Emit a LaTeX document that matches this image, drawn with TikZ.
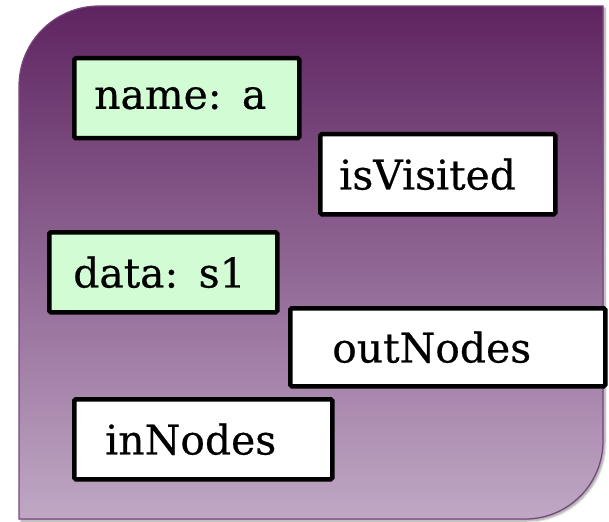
\documentclass[tikz,border=0pt]{standalone}
\usepackage{fontspec}
\setmainfont{DejaVu Serif}[FakeBold=0.5]
\usetikzlibrary{shadows.blur}
\definecolor{plumtop}{RGB}{94,36,97}
\definecolor{plumbot}{RGB}{192,168,197}
\definecolor{plumedge}{RGB}{120,70,125}
\definecolor{mint}{RGB}{210,252,212}
\tikzset{
  field/.style={draw=black, line width=4.5bp, rounded corners=1.5bp,
    anchor=north west, inner ysep=0bp, align=left,
    font=\fontsize{41}{45}\selectfont, text=black},
  keyfield/.style={field, fill=mint},
  valfield/.style={field, fill=white},
}
\begin{document}
\begin{tikzpicture}[x=1bp, y=-1bp]
  \useasboundingbox (0,0) rectangle (609,522);
  % record panel: rounded top-left and bottom-right corners
  \path[top color=plumtop, bottom color=plumbot, draw=plumedge, line width=1.2bp,
        blur shadow={shadow xshift=2bp, shadow yshift=-2bp, shadow blur steps=6}]
    (19,519) -- (19,86) arc[start angle=180, end angle=270, radius=80] -- (603,6)
    -- (603,441) arc[start angle=0, end angle=90, radius=78] -- cycle;
  % fields of the record
  \node[keyfield, minimum width=225bp, minimum height=80bp, inner xsep=20bp, text width=185bp] (name) at (72,56) {name: a};
  \node[valfield, minimum width=235bp, minimum height=80bp, inner xsep=19bp, text width=197bp] (visited) at (318,132) {isVisited};
  \node[keyfield, minimum width=228bp, minimum height=80bp, inner xsep=24bp, text width=180bp] (data) at (47,230) {data: s1};
  \node[valfield, minimum width=315bp, minimum height=78bp, inner xsep=42bp, text width=231bp] (out) at (288,306) {outNodes};
  \node[valfield, minimum width=258bp, minimum height=80bp, inner xsep=31bp, text width=196bp] (in) at (72,397) {inNodes};
\end{tikzpicture}
\end{document}
